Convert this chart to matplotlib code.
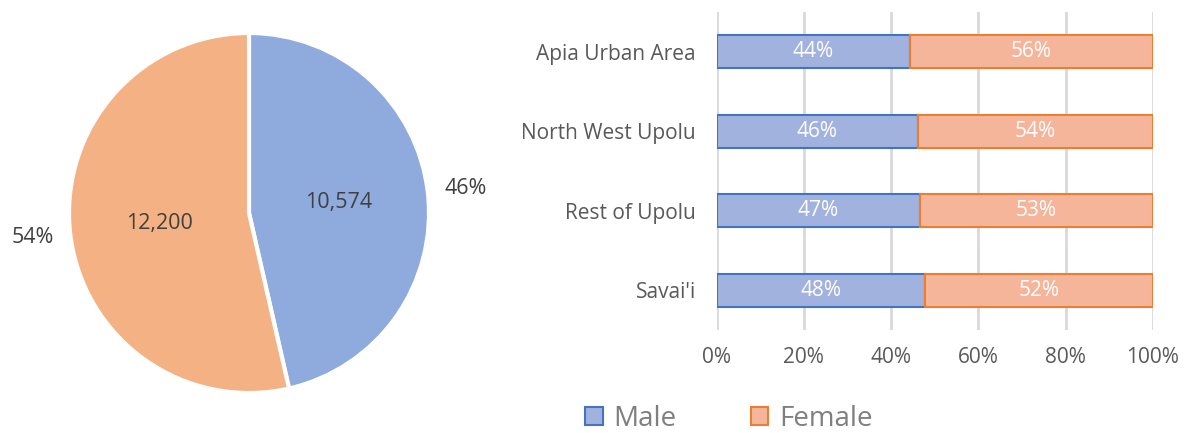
import matplotlib
matplotlib.use("Agg")
import matplotlib.pyplot as plt
from matplotlib.patches import Patch
import numpy as np

plt.rcParams['font.family'] = ['Open Sans', 'DejaVu Sans']

# Pie data
pie_labels = ["Male", "Female"]
pie_values = [10574, 12200]

# Bar data
regions = ["Apia Urban Area", "North West Upolu", "Rest of Upolu", "Savai'i"]
male_share = [44.3, 46.1, 46.6, 47.8]
female_share = [55.7, 53.9, 53.4, 52.2]
xticks = [0, 20, 40, 60, 80, 100]
xtick_labels = ["0%", "20%", "40%", "60%", "80%", "100%"]

pie_colors = ["#8FAADC", "#F4B183"]
bar_fill = ["#A2B2DF", "#F5B59B"]
bar_edge = ["#4472C4", "#ED7D31"]

W, H = 1187, 433
fig = plt.figure(figsize=(W / 100, H / 100), dpi=100)

# ---- Pie ----
cx, cy, r = 249, 213, 180
axp = fig.add_axes([(cx - r) / W, (H - cy - r) / H, 2 * r / W, 2 * r / H])
total = sum(pie_values)
pct_text = [f"{round(v / total * 100)}%" for v in pie_values]
wedges, texts, autotexts = axp.pie(
    pie_values, colors=pie_colors, startangle=90, counterclock=False,
    labels=pct_text, labeldistance=1.21,
    autopct=lambda p: f"{p * total / 100:,.0f}", pctdistance=0.5,
    wedgeprops=dict(edgecolor="white", linewidth=3),
    textprops=dict(fontsize=15.5, color="#404040"), radius=1.0)
for t in texts:
    t.set_ha("center")
axp.set_xlim(-1, 1)
axp.set_ylim(-1, 1)
axp.set_aspect("auto")

# ---- Bars ----
axb = fig.add_axes([716.7 / W, (H - 330) / H, 436 / W, 318 / H])
y = np.arange(len(regions))
bh = 0.41
axb.barh(y, male_share, height=bh, color=bar_fill[0], edgecolor=bar_edge[0], linewidth=1.5, zorder=3)
axb.barh(y, female_share, left=male_share, height=bh, color=bar_fill[1], edgecolor=bar_edge[1], linewidth=1.5, zorder=3)
for i in range(len(regions)):
    axb.text(male_share[i] / 2, y[i], f"{round(male_share[i])}%", ha="center", va="center",
             color="white", fontsize=15, zorder=4)
    axb.text(male_share[i] + female_share[i] / 2, y[i], f"{round(female_share[i])}%", ha="center",
             va="center", color="white", fontsize=15, zorder=4)
axb.set_ylim(len(regions) - 0.5, -0.5)
axb.set_xlim(0, 100)
axb.set_yticks(y)
axb.set_yticklabels(regions, fontsize=15, color="#595959")
axb.set_xticks(xticks)
axb.set_xticklabels(xtick_labels, fontsize=15, color="#595959")
axb.tick_params(axis="x", length=0, pad=12)
axb.tick_params(axis="y", length=0, pad=15)
axb.grid(axis="x", color="#D9D9D9", linewidth=2, zorder=0)
for s in axb.spines.values():
    s.set_visible(False)

handles = [Patch(facecolor=bar_fill[0], edgecolor=bar_edge[0], linewidth=1.5, label="Male"),
           Patch(facecolor=bar_fill[1], edgecolor=bar_edge[1], linewidth=1.5, label="Female")]
leg = fig.legend(handles=handles, loc="center", bbox_to_anchor=(729 / W, 1 - 419 / H), ncol=2,
                 frameon=False, fontsize=20, handlelength=0.62, handleheight=0.62,
                 handletextpad=0.4, columnspacing=2.66, labelcolor="#7F7F7F")

fig.savefig("out.png", dpi=100, facecolor="white")
